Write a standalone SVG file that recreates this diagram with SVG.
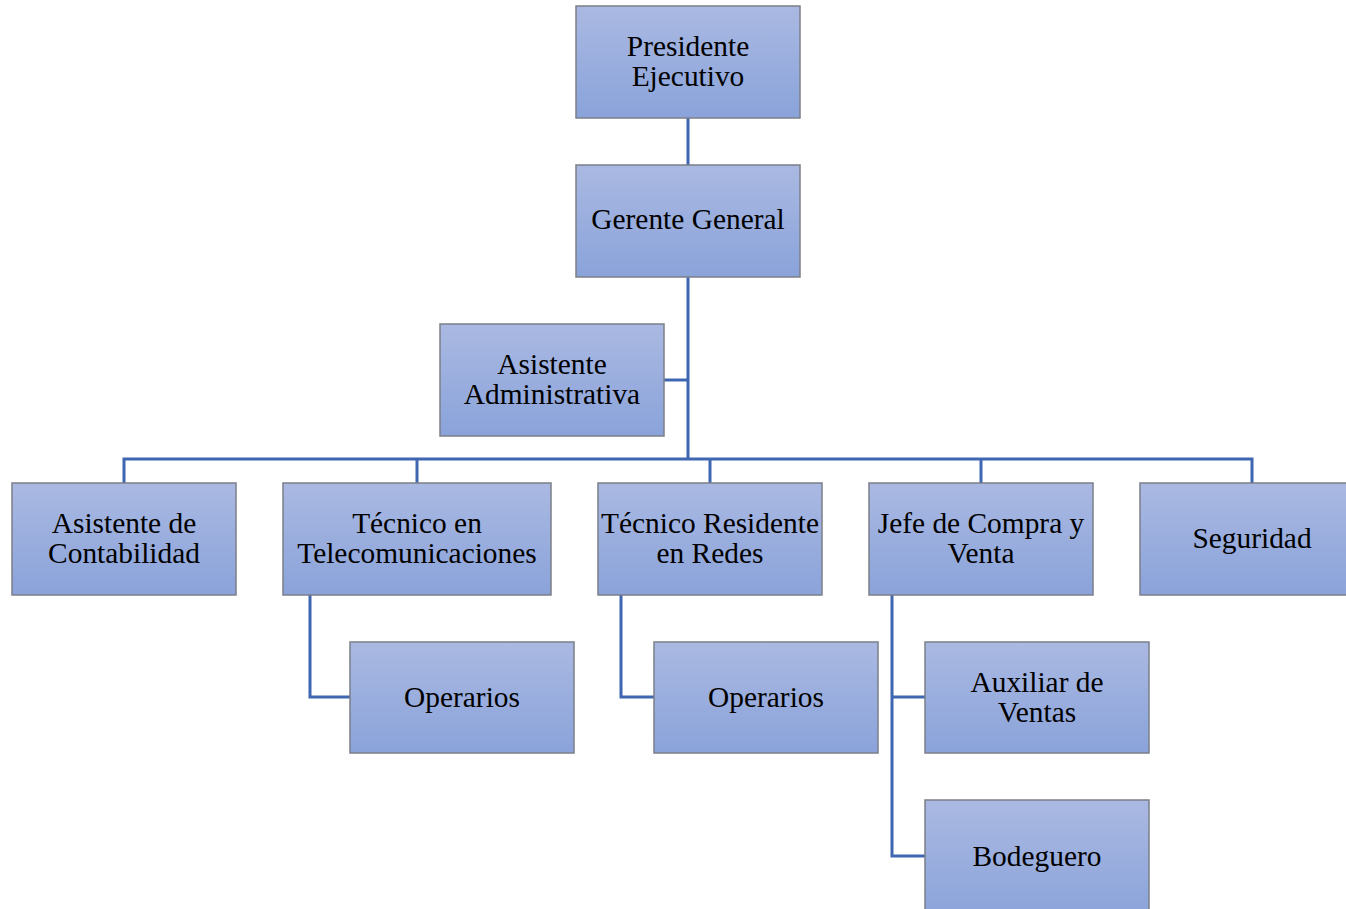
<svg xmlns="http://www.w3.org/2000/svg" width="1346" height="909" viewBox="0 0 1346 909">
  <defs>
    <linearGradient id="boxFill" x1="0" y1="0" x2="0" y2="1">
      <stop offset="0" stop-color="#aab9e2"/>
      <stop offset="1" stop-color="#8aa3da"/>
    </linearGradient>
    <style>
      .box { fill: url(#boxFill); stroke: #7b7f88; stroke-width: 1.5; }
      .lbl { font-family: 'Liberation Serif', 'Times New Roman', serif; font-size: 29.4px; fill: #000; text-anchor: middle; }
      .conn { fill: none; stroke: #3f66b0; stroke-width: 3; }
    </style>
  </defs>
  <rect width="1346" height="909" fill="#ffffff"/>

  <g id="connectors">
    <path class="conn" d="M688 118 V165"/>
    <path class="conn" d="M688 277 V459"/>
    <path class="conn" d="M664 380 H688"/>
    <path class="conn" d="M124 483 V459 H1252 V483"/>
    <path class="conn" d="M417 459 V483"/>
    <path class="conn" d="M710 459 V483"/>
    <path class="conn" d="M981 459 V483"/>
    <path class="conn" d="M310 595 V697 H350"/>
    <path class="conn" d="M621 595 V697 H654"/>
    <path class="conn" d="M892 595 V856 H925"/>
    <path class="conn" d="M892 697 H925"/>
  </g>

  <g id="presidente">
    <rect class="box" x="576" y="6" width="224" height="112"/>
    <text class="lbl" x="688" y="56">Presidente</text>
    <text class="lbl" x="688" y="86">Ejecutivo</text>
  </g>
  <g id="gerente">
    <rect class="box" x="576" y="165" width="224" height="112"/>
    <text class="lbl" x="688" y="229">Gerente General</text>
  </g>
  <g id="asistente-admin">
    <rect class="box" x="440" y="324" width="224" height="112"/>
    <text class="lbl" x="552" y="374">Asistente</text>
    <text class="lbl" x="552" y="404">Administrativa</text>
  </g>
  <g id="asistente-contabilidad">
    <rect class="box" x="12" y="483" width="224" height="112"/>
    <text class="lbl" x="124" y="533">Asistente de</text>
    <text class="lbl" x="124" y="563">Contabilidad</text>
  </g>
  <g id="tecnico-telecom">
    <rect class="box" x="283" y="483" width="268" height="112"/>
    <text class="lbl" x="417" y="533">Técnico en</text>
    <text class="lbl" x="417" y="563">Telecomunicaciones</text>
  </g>
  <g id="tecnico-redes">
    <rect class="box" x="598" y="483" width="224" height="112"/>
    <text class="lbl" x="710" y="533">Técnico Residente</text>
    <text class="lbl" x="710" y="563">en Redes</text>
  </g>
  <g id="jefe-compra">
    <rect class="box" x="869" y="483" width="224" height="112"/>
    <text class="lbl" x="981" y="533">Jefe de Compra y</text>
    <text class="lbl" x="981" y="563">Venta</text>
  </g>
  <g id="seguridad">
    <rect class="box" x="1140" y="483" width="210" height="112"/>
    <text class="lbl" x="1252" y="548">Seguridad</text>
  </g>
  <g id="operarios-telecom">
    <rect class="box" x="350" y="642" width="224" height="111"/>
    <text class="lbl" x="462" y="707">Operarios</text>
  </g>
  <g id="operarios-redes">
    <rect class="box" x="654" y="642" width="224" height="111"/>
    <text class="lbl" x="766" y="707">Operarios</text>
  </g>
  <g id="auxiliar-ventas">
    <rect class="box" x="925" y="642" width="224" height="111"/>
    <text class="lbl" x="1037" y="692">Auxiliar de</text>
    <text class="lbl" x="1037" y="722">Ventas</text>
  </g>
  <g id="bodeguero">
    <rect class="box" x="925" y="800" width="224" height="120"/>
    <text class="lbl" x="1037" y="866">Bodeguero</text>
  </g>
</svg>
